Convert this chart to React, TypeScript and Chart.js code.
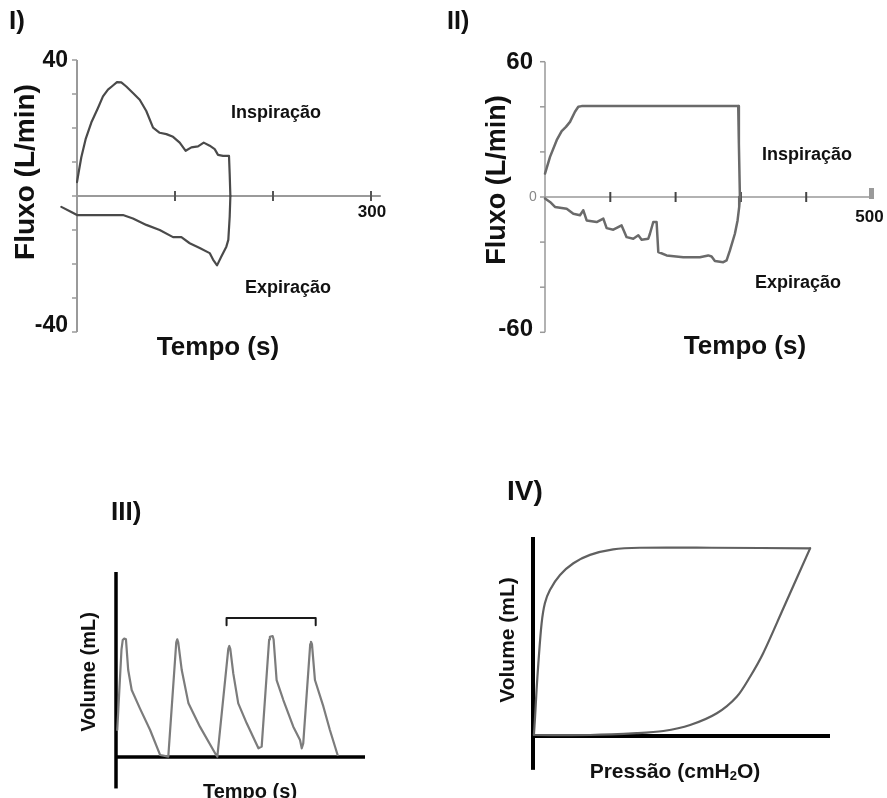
import React, { useEffect, useRef } from "react";
import { Chart, registerables } from "chart.js";

Chart.register(...registerables);

const W = 887;
const H = 798;
const FONT = '"Liberation Sans", Arial, Helvetica, sans-serif';

// ---------- Panel I : flow (L/min) vs time ----------
const p1InspTime = [0, 1.7, 4.4, 8.8, 14.6, 21.4, 26.5, 31.6, 36.7, 40.8, 45.2, 50.3, 57.1, 64, 70.7, 77.6, 84.4, 91.2, 98, 104.8, 110.9, 116.7, 123.5, 129.3, 135.4, 140.5, 143.9, 149, 155.1, 155.8, 156.5];
const p1InspFlow = [4.1, 7.0, 11.4, 16.7, 21.6, 25.9, 29.3, 31.3, 32.5, 33.5, 33.4, 32.2, 30.3, 28.3, 25, 20.1, 18.6, 18.2, 17.4, 15.7, 13.3, 14.3, 14.6, 15.7, 14.8, 13.8, 12.1, 11.8, 11.8, 6.5, 0];
const p1ExpTime = [156.5, 155.8, 154.4, 152.4, 147.3, 142.9, 138.8, 135.4, 125.2, 115, 106.5, 98, 84.4, 70.7, 57.1, 46.9, 36.7, 0, -5.8, -16];
const p1ExpFlow = [0, -6.1, -12.9, -14.9, -17.8, -20.4, -18.7, -16.8, -15.3, -13.9, -12.1, -12.1, -10, -8.5, -6.6, -5.6, -5.6, -5.6, -4.7, -3.2];
const p1YTicks = [-40, -30, -20, -10, 0, 10, 20, 30, 40];
const p1YLabels = [40, -40];
const p1XTicks = [100, 200, 300];
const p1XLabels = [300];

// ---------- Panel II : flow (L/min) vs time ----------
const p2InspTime = [0, 7.7, 17.9, 25.5, 32.1, 38.3, 45.9, 51, 56.1, 295.9, 296.9, 298.5];
const p2InspFlow = [10.4, 17.8, 25.2, 29.2, 31.1, 33.3, 37.8, 40, 40.3, 40.3, 23.7, 0];
const p2ExpTime = [298.5, 297.4, 294.9, 290.8, 283.2, 278.1, 273, 260.2, 255.1, 250, 237.2, 211.7, 186.2, 173.5, 170.9, 165.8, 160.7, 158.2, 148, 142.9, 135.2, 125, 117.3, 104.6, 94.4, 89.3, 79.1, 63.8, 58.7, 53.6, 43.4, 33.2, 15.3, 7.7, 0];
const p2ExpFlow = [0, -4.4, -10.4, -16.3, -23.7, -28.1, -28.9, -28.4, -26.4, -25.9, -26.7, -26.7, -25.9, -24.4, -11.1, -11.1, -16.3, -18.5, -19, -17, -18.5, -17.8, -12.6, -14.5, -13.8, -9.6, -11.1, -10.4, -5.9, -8.1, -7.4, -5.2, -4.4, -2.2, -0.7];
const p2YTicks = [-60, -40, -20, 0, 20, 40, 60];
const p2YLabels = [60, -60];
const p2XTicks = [100, 200, 300, 400];
const p2XLabels = [500];

// ---------- Panel III : volume vs time ----------
const p3Time = [0.5, 2.2, 2.7, 3.3, 4.0, 4.9, 6.3, 9.6, 13.7, 17.7, 21.0, 24.2, 24.6, 25.0, 26.4, 29.1, 33.7, 40.2, 40.7, 45.1, 45.5, 45.9, 47.1, 49.1, 52.5, 57.2, 58.5, 61.5, 61.8, 62.9, 63.3, 64.5, 67.2, 71.2, 73.9, 74.6, 75.2, 78.0, 78.3, 78.7, 79.9, 83.3, 85.9, 89.0];
const p3Volume = [14.6, 58, 63.2, 64, 63.6, 47, 36.2, 26.3, 14.6, 1.1, 0.2, 62, 63.6, 62, 47, 29, 16.4, 1.1, 0.2, 58.5, 60, 58.5, 45.2, 29, 18.2, 4.7, 5.6, 63.5, 65, 65.4, 63.5, 41.6, 30.8, 16.4, 9.2, 4.7, 7.4, 61, 62.3, 61, 41.6, 27.2, 14.6, 1.1];
const p3BracketX = [44.4, 44.4, 80.2, 80.2];
const p3BracketY = [71.2, 75.1, 75.1, 71.2];

// ---------- Panel IV : volume vs pressure ----------
const p4InflPressure = [0.3, 0.7, 1.2, 1.8, 2.9, 4.0, 5.7, 9.1, 13.6, 19.2, 27, 36, 60, 93.3];
const p4InflVolume = [0.5, 9.7, 23.1, 36.5, 56.6, 66.7, 73.4, 80.9, 86.8, 91, 93.8, 94.6, 94.6, 94.3];
const p4DeflPressure = [93.3, 84.3, 77.5, 73.1, 68.6, 61.9, 52.9, 43.9, 34.9, 19.2, 0.7];
const p4DeflVolume = [94.3, 64.2, 41.6, 29.8, 19.7, 11.4, 5.5, 2.5, 1.4, 0.5, 0.5];

type Area = { left: number; right: number; top: number; bottom: number };

function pts(xs: number[], ys: number[]) {
  return xs.map((x, i) => ({ x, y: ys[i] }));
}

function line(data: any[], color: string, width: number, tension = 0) {
  return {
    data,
    showLine: true,
    borderColor: color,
    backgroundColor: color,
    borderWidth: width,
    pointRadius: 0,
    tension,
    fill: false,
    clip: false,
    borderJoinStyle: "round",
    borderCapStyle: "round",
  };
}

function text(ctx: CanvasRenderingContext2D, s: string, x: number, y: number, size: number, opts: any = {}) {
  ctx.save();
  ctx.font = `${opts.weight ?? "bold"} ${size}px ${FONT}`;
  ctx.fillStyle = opts.color ?? "#111";
  ctx.textAlign = opts.align ?? "center";
  ctx.textBaseline = "middle";
  ctx.translate(x, y);
  if (opts.rotate) ctx.rotate(opts.rotate);
  ctx.fillText(s, 0, 0);
  ctx.restore();
}

function seg(ctx: CanvasRenderingContext2D, x1: number, y1: number, x2: number, y2: number, color: string, w: number) {
  ctx.save();
  ctx.strokeStyle = color;
  ctx.lineWidth = w;
  ctx.lineCap = "butt";
  ctx.beginPath();
  ctx.moveTo(x1, y1);
  ctx.lineTo(x2, y2);
  ctx.stroke();
  ctx.restore();
}

function makeConfig(area: Area, xr: [number, number], yr: [number, number], datasets: any[], drawAxes: (c: any) => void, drawText: (c: any) => void): any {
  return {
    type: "scatter",
    data: { datasets },
    options: {
      responsive: false,
      animation: false,
      devicePixelRatio: 1,
      events: [],
      layout: { padding: { left: area.left, right: W - area.right, top: area.top, bottom: H - area.bottom } },
      plugins: { legend: { display: false }, tooltip: { enabled: false }, title: { display: false } },
      scales: {
        x: { type: "linear", display: false, min: xr[0], max: xr[1] },
        y: { type: "linear", display: false, min: yr[0], max: yr[1] },
      },
    },
    plugins: [
      {
        id: "deco",
        beforeDatasetsDraw(chart: any) {
          drawAxes(chart);
        },
        afterDraw(chart: any) {
          drawText(chart);
        },
      },
    ],
  };
}

function panel1() {
  return makeConfig(
    { left: 57.4, right: 380.8, top: 60, bottom: 332 },
    [-20, 310],
    [-40, 40],
    [line(pts(p1InspTime, p1InspFlow), "#4a4a4a", 2.2), line(pts(p1ExpTime, p1ExpFlow), "#4a4a4a", 2.2)],
    (chart) => {
      const ctx = chart.ctx;
      const sx = chart.scales.x, sy = chart.scales.y;
      const x0 = sx.getPixelForValue(0), y0 = sy.getPixelForValue(0);
      seg(ctx, x0, sy.getPixelForValue(-40), x0, sy.getPixelForValue(40), "#9a9a9a", 2);
      p1YTicks.forEach((v) => seg(ctx, x0 - 5, sy.getPixelForValue(v), x0, sy.getPixelForValue(v), "#9a9a9a", 1.5));
      seg(ctx, x0, y0, sx.getPixelForValue(310), y0, "#9a9a9a", 2);
      p1XTicks.forEach((v) => seg(ctx, sx.getPixelForValue(v), y0 - 5, sx.getPixelForValue(v), y0 + 5, "#555", 2));
    },
    (chart) => {
      const ctx = chart.ctx;
      const sx = chart.scales.x, sy = chart.scales.y;
      const x0 = sx.getPixelForValue(0), y0 = sy.getPixelForValue(0);
      text(ctx, "I)", 9, 22, 26, { align: "left" });
      p1YLabels.forEach((v) => text(ctx, String(v), x0 - 9, sy.getPixelForValue(v) + (v < 0 ? -6 : 1), 23, { align: "right" }));
      p1XLabels.forEach((v) => text(ctx, String(v), sx.getPixelForValue(v) + 1, y0 + 16, 17));
      text(ctx, "Fluxo (L/min)", 26, 172, 28, { rotate: -Math.PI / 2 });
      text(ctx, "Tempo (s)", 218, 348, 26);
      text(ctx, "Inspiração", 276, 113, 18);
      text(ctx, "Expiração", 288, 288, 18);
    }
  );
}

function panel2() {
  return makeConfig(
    { left: 545, right: 871.5, top: 61.7, bottom: 332.3 },
    [0, 500],
    [-60, 60],
    [line(pts(p2InspTime, p2InspFlow), "#6a6a6a", 2.5), line(pts(p2ExpTime, p2ExpFlow), "#6a6a6a", 2.5)],
    (chart) => {
      const ctx = chart.ctx;
      const sx = chart.scales.x, sy = chart.scales.y;
      const x0 = sx.getPixelForValue(0), y0 = sy.getPixelForValue(0);
      seg(ctx, x0, sy.getPixelForValue(-60), x0, sy.getPixelForValue(60), "#999", 1.5);
      p2YTicks.forEach((v) => seg(ctx, x0 - 5, sy.getPixelForValue(v), x0, sy.getPixelForValue(v), "#999", 1.5));
      seg(ctx, x0, y0, sx.getPixelForValue(500), y0, "#999", 1.5);
      p2XTicks.forEach((v) => seg(ctx, sx.getPixelForValue(v), y0 - 5, sx.getPixelForValue(v), y0 + 5, "#444", 2));
      ctx.save();
      ctx.fillStyle = "#9a9a9a";
      ctx.fillRect(sx.getPixelForValue(500) - 2.5, y0 - 9, 5, 11);
      ctx.restore();
    },
    (chart) => {
      const ctx = chart.ctx;
      const sx = chart.scales.x, sy = chart.scales.y;
      const x0 = sx.getPixelForValue(0), y0 = sy.getPixelForValue(0);
      text(ctx, "II)", 447, 22, 25, { align: "left" });
      p2YLabels.forEach((v) => text(ctx, String(v), x0 - 12, sy.getPixelForValue(v) + (v < 0 ? -3 : 1), 24, { align: "right" }));
      text(ctx, "0", x0 - 12, y0, 14, { weight: "normal", color: "#888", align: "center" });
      p2XLabels.forEach((v) => text(ctx, String(v), sx.getPixelForValue(v) - 2, y0 + 20, 17));
      text(ctx, "Fluxo (L/min)", 498, 180, 27, { rotate: -Math.PI / 2 });
      text(ctx, "Tempo (s)", 745, 347, 26);
      text(ctx, "Inspiração", 807, 155, 18);
      text(ctx, "Expiração", 798, 283, 18);
    }
  );
}

function panel3() {
  return makeConfig(
    { left: 116, right: 365, top: 572, bottom: 757 },
    [0, 100],
    [0, 100],
    [line(pts(p3Time, p3Volume), "#7c7c7c", 2.2), line(pts(p3BracketX, p3BracketY), "#1a1a1a", 2)],
    (chart) => {
      const ctx = chart.ctx;
      const sx = chart.scales.x, sy = chart.scales.y;
      const x0 = sx.getPixelForValue(0), y0 = sy.getPixelForValue(0);
      seg(ctx, x0, sy.getPixelForValue(-17), x0, sy.getPixelForValue(100), "#000", 3.5);
      seg(ctx, x0, y0, sx.getPixelForValue(100), y0, "#000", 3.5);
    },
    (chart) => {
      const ctx = chart.ctx;
      text(ctx, "III)", 111, 513, 26, { align: "left" });
      text(ctx, "Volume (mL)", 89, 672, 20, { rotate: -Math.PI / 2 });
      text(ctx, "Tempo (s)", 250, 792, 20);
    }
  );
}

function panel4() {
  return makeConfig(
    { left: 533, right: 830, top: 537, bottom: 736 },
    [0, 100],
    [0, 100],
    [line(pts(p4InflPressure, p4InflVolume), "#606060", 2.2, 0.3), line(pts(p4DeflPressure, p4DeflVolume), "#606060", 2.2, 0.3)],
    (chart) => {
      const ctx = chart.ctx;
      const sx = chart.scales.x, sy = chart.scales.y;
      const x0 = sx.getPixelForValue(0), y0 = sy.getPixelForValue(0);
      seg(ctx, x0, sy.getPixelForValue(-17), x0, sy.getPixelForValue(100), "#000", 4);
      seg(ctx, x0, y0, sx.getPixelForValue(100), y0, "#000", 4);
    },
    (chart) => {
      const ctx = chart.ctx;
      text(ctx, "IV)", 507, 492, 28, { align: "left" });
      text(ctx, "Volume (mL)", 508, 640, 21, { rotate: -Math.PI / 2 });
      ctx.save();
      const a = "Pressão (cmH", b = "2", c = "O)";
      ctx.font = `bold 21px ${FONT}`;
      const wa = ctx.measureText(a).width, wc = ctx.measureText(c).width;
      ctx.font = `bold 13px ${FONT}`;
      const wb = ctx.measureText(b).width;
      ctx.restore();
      const total = wa + wb + wc;
      const sx0 = 675 - total / 2;
      text(ctx, a, sx0, 772, 21, { align: "left" });
      text(ctx, b, sx0 + wa, 776, 13, { align: "left" });
      text(ctx, c, sx0 + wa + wb, 772, 21, { align: "left" });
    }
  );
}

function Panel({ build }: { build: () => any }) {
  const ref = useRef<HTMLCanvasElement>(null);
  useEffect(() => {
    const chart = new Chart(ref.current as HTMLCanvasElement, build());
    return () => chart.destroy();
  }, [build]);
  return (
    <canvas
      ref={ref}
      width={W}
      height={H}
      style={{ position: "absolute", left: 0, top: 0, width: W, height: H }}
    />
  );
}

export default function App() {
  return (
    <div style={{ position: "fixed", left: 0, top: 0, width: W, height: H, background: "#fff", overflow: "hidden" }}>
      <Panel build={panel1} />
      <Panel build={panel2} />
      <Panel build={panel3} />
      <Panel build={panel4} />
    </div>
  );
}
